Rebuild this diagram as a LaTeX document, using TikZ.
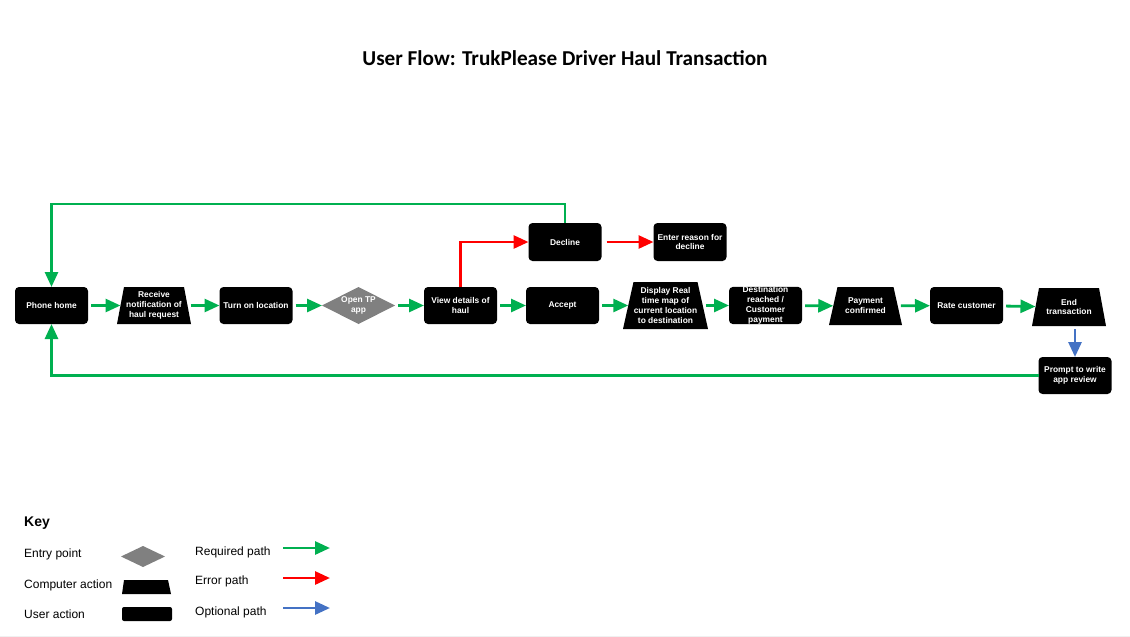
\documentclass[tikz,border=0pt]{standalone}
\usepackage{fontspec}
\setmainfont{Liberation Sans}
\newfontfamily\titlefont{Carlito}
\usetikzlibrary{arrows.meta}
\definecolor{reqg}{HTML}{00B050}
\definecolor{errr}{HTML}{FF0000}
\definecolor{optb}{HTML}{4472C4}
\definecolor{entryg}{HTML}{808080}
\newcommand\trapnode[7]{%
  \fill[black] (#2-#4,#3-#6) -- (#2+#4,#3-#6) -- (#2+#5,#3+#6) -- (#2-#5,#3+#6) -- cycle;
  \node[txt, minimum width={#4+#5}, minimum height={2*#6}] (#1) at (#2,#3) {#7};
}
\begin{document}
\begin{tikzpicture}[x=1pt,y=-1pt,
  txt/.style={text=white, font=\fontsize{8.4}{9.8}\selectfont\bfseries, align=center, inner sep=0pt, outer sep=0pt},
  useract/.style={txt, fill=black, rounded corners=4pt, minimum width=73pt, minimum height=37pt},
  tipA/.style={-{Triangle[length=15pt,width=13pt]}},
  req/.style={draw=reqg, line width=2.8pt, tipA, reqg, shorten <=3pt},
  err/.style={draw=errr, line width=2.8pt, tipA, errr},
  opt/.style={draw=optb, line width=2.8pt, tipA, optb},
  keytxt/.style={font=\fontsize{12}{14}\selectfont, anchor=west, inner sep=0pt}]
\useasboundingbox (0,0) rectangle (1130,637);
\fill[white] (0,0) rectangle (1130,637);
\draw[black!6, line width=1pt] (0,636) -- (1130,636);

\node[font=\titlefont\fontsize{21.2}{25}\selectfont\bfseries] (title) at (565,58) {User Flow: TrukPlease Driver Haul Transaction};

% main row
\node[useract] (phone) at (51.5,305.5) {Phone home};
\trapnode{recv}{154}{305.5}{30}{37}{18.5}{Receive\\notification of\\haul request}
\node[useract] (loc) at (256,305.5) {Turn on location};
\fill[entryg] (322,305.5) -- (358.5,287) -- (395,305.5) -- (358.5,324) -- cycle;
\node[txt, minimum width=73pt, minimum height=37pt] (open) at (358.5,305.5) {Open TP\\app};
\node[useract] (view) at (460.5,305.5) {View details of\\haul};
\node[useract] (accept) at (562.5,305.5) {Accept};
\trapnode{disp}{665.5}{305.5}{32}{42.5}{23.5}{Display Real\\time map of\\current location\\to destination}
\node[useract] (dest) at (765.5,305.5) {Destination\\reached /\\Customer\\payment};
\trapnode{pay}{865.5}{306}{28}{36.5}{19}{Payment\\confirmed}
\node[useract] (rate) at (966.5,305.5) {Rate customer};
\trapnode{endt}{1069}{307}{30}{37}{19}{End\\transaction}
\node[useract] (prompt) at (1075,375.5) {Prompt to write\\app review};
\node[useract, minimum height=38pt] (decline) at (565,242) {Decline};
\node[useract, minimum height=38pt] (reason) at (690,242) {Enter reason for\\decline};

% connectors
\draw[req] (phone) -- (recv);
\draw[req] (recv) -- (loc);
\draw[req] (loc) -- (open.west);
\draw[req] (open.east) -- (view);
\draw[req] (view) -- (accept);
\draw[req] (accept) -- (disp);
\draw[req] (disp) -- (dest);
\draw[req] (dest) -- (pay);
\draw[req] (pay) -- (rate);
\draw[req] (rate) -- (endt);
\draw[req, shorten <=0pt] (decline.north) -- ++(0,-19) -| (phone.north);
\draw[req, shorten <=0pt] (prompt.west) -| (phone.south);
\draw[err] (view.north) |- (decline.west);
\draw[err, shorten <=5pt] (decline) -- (reason);
\draw[opt, shorten <=3pt] (prompt.north |- endt.south) -- (prompt.north);

% key
\node[font=\fontsize{14}{16}\selectfont\bfseries, anchor=west, inner sep=0pt] (keyt) at (24,523) {Key};
\node[keytxt] (k1) at (24,554) {Entry point};
\node[keytxt] (k2) at (24,585) {Computer action};
\node[keytxt] (k3) at (24,614) {User action};
\fill[entryg] (121,556.5) -- (143,546) -- (165,556.5) -- (143,567) -- cycle;
\fill[black] (124,580) -- (168,580) -- (171,594) -- (122,594) -- cycle;
\fill[black, rounded corners=2pt] (122,607) rectangle (172,621);
\node[keytxt] (k4) at (195,552) {Required path};
\node[keytxt] (k5) at (195,581) {Error path};
\node[keytxt] (k6) at (195,612) {Optional path};
\coordinate (a1s) at (283,548); \coordinate (a1e) at (330,548);
\coordinate (a2s) at (283,578); \coordinate (a2e) at (330,578);
\coordinate (a3s) at (283,608); \coordinate (a3e) at (330,608);
\draw[req, shorten <=0pt] (a1s) -- (a1e);
\draw[err] (a2s) -- (a2e);
\draw[opt] (a3s) -- (a3e);
\end{tikzpicture}
\end{document}
